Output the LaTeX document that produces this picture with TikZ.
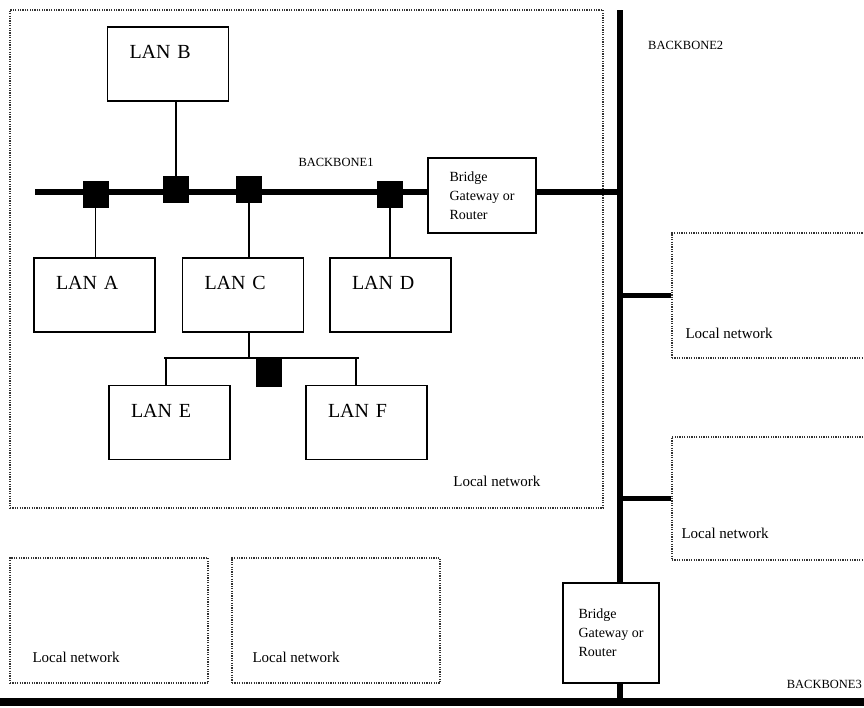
\documentclass[tikz,border=0pt]{standalone}
\usepackage{fontspec}
\setmainfont{Liberation Serif}
\usetikzlibrary{positioning}
\tikzset{
  lanbox/.style = {draw, rectangle, line width=1.4pt, minimum width=121pt,
    minimum height=74pt, text width=77pt, inner xsep=22pt, align=left,
    text depth=24pt, font=\fontsize{20}{24}\selectfont},% boite LAN
  bridgebox/.style = {draw, rectangle, line width=1.4pt, align=left,
    fill=white, font=\fontsize{14}{19}\selectfont},% pont / passerelle
  tapnode/.style = {draw, fill=black, inner sep=0pt, minimum width=25pt,
    minimum height=26pt},% prise sur le bus
  localnet/.style = {draw=black!80, rectangle, line width=1.3pt,
    dash pattern=on 1.2pt off 1.2pt, inner sep=0pt},% reseau local
  nettext/.style = {inner sep=0pt, font=\fontsize{15}{18}\selectfont},
  bbtext/.style = {inner sep=0pt, font=\fontsize{12.5}{15}\selectfont},
  backbone/.style = {line width=6pt},
  link/.style = {line width=1.4pt}
}

\begin{document}
\begin{tikzpicture}[x=1pt, y=-1pt]
\useasboundingbox (0,0) rectangle (864,707);

% reseaux locaux
\node [localnet, minimum width=593pt, minimum height=498pt] (lnetmain) at (306.5,259) {};
\node [localnet, minimum width=198pt, minimum height=125pt] (lnetbl1) at (109,620.5) {};
\node [localnet, minimum width=208pt, minimum height=125pt] (lnetbl2) at (336,620.5) {};
\node [localnet, minimum width=208pt, minimum height=125pt] (lnetr1) at (776,295.5) {};
\node [localnet, minimum width=208pt, minimum height=123pt] (lnetr2) at (776,498.5) {};

\node [nettext, above left=22pt and 63pt of lnetmain.south east] (txtmain) {Local network};
\node [nettext, above right=21pt and 23pt of lnetbl1.south west] (txtbl1) {Local network};
\node [nettext, above right=21pt and 21pt of lnetbl2.south west] (txtbl2) {Local network};
\node [nettext, above right=20pt and 14pt of lnetr1.south west] (txtr1) {Local network};
\node [nettext, above right=22pt and 10pt of lnetr2.south west] (txtr2) {Local network};

% backbones
\coordinate (bb1w) at (35,192);
\coordinate (bb2n) at (620,10);
\coordinate (bb3w) at (0,702);
\coordinate (bb3e) at (864,702);

\node [bridgebox, minimum width=108pt, minimum height=75pt] (br1) at (482,195.5)
  {Bridge\\Gateway or\\Router};
\node [bridgebox, minimum width=96pt, minimum height=100pt] (br2) at (611,633)
  {Bridge\\Gateway or\\Router};

\draw [backbone] (bb1w) -- (bb1w -| br1.west);
\draw [backbone] (br1.east |- bb1w) -- (bb2n |- bb1w);
\draw [backbone] (bb2n) -- (bb2n |- br2.north);
\draw [backbone] (bb2n |- br2.south) -- (bb2n |- bb3w);
\draw [line width=8pt] (bb3w) -- (bb3e);
\draw [backbone, line width=5pt] (lnetr1.west) -- (lnetr1.west -| bb2n);
\draw [backbone, line width=5pt] (lnetr2.west) -- (lnetr2.west -| bb2n);

\node [bbtext] (lbl1) at (336,162) {BACKBONE1};
\node [bbtext, anchor=west] (lbl2) at (648,45) {BACKBONE2};
\node [bbtext, anchor=east] (lbl3) at (862,684) {BACKBONE3};

% LANs
\node [lanbox] (lanb) at (168,64) {LAN B};
\node [lanbox] (lana) at (94.5,295) {LAN A};
\node [lanbox] (lanc) at (243,295) {LAN C};
\node [lanbox] (land) at (390.5,295) {LAN D};
\node [lanbox] (lane) at (169.5,422.5) {LAN E};
\node [lanbox] (lanf) at (366.5,422.5) {LAN F};

% prises
\node [tapnode] (t1) at (95.5,194) {};
\node [tapnode] (t2) at (176,189) {};
\node [tapnode] (t3) at (249,189) {};
\node [tapnode] (t4) at (390,194) {};

\draw [link] (t2 |- lanb.south) -- (t2);
\draw [link] (t1) -- (t1 |- lana.north);
\draw [link] (t3) -- (t3 |- lanc.north);
\draw [link] (t4) -- (t4 |- land.north);

% sous-reseau de LAN C
\coordinate (busw) at (164,358);
\coordinate (buse) at (359,358);
\draw [link] (t3 |- lanc.south) -- (t3 |- busw);
\draw [line width=2.5pt] (busw) -- (buse);
\draw [link] (166,358) -- (166,0 |- lane.north);
\draw [link] (356,358) -- (356,0 |- lanf.north);
\node [tapnode, minimum height=27pt] (t5) at (268.5,373) {};
\end{tikzpicture}
\end{document}
